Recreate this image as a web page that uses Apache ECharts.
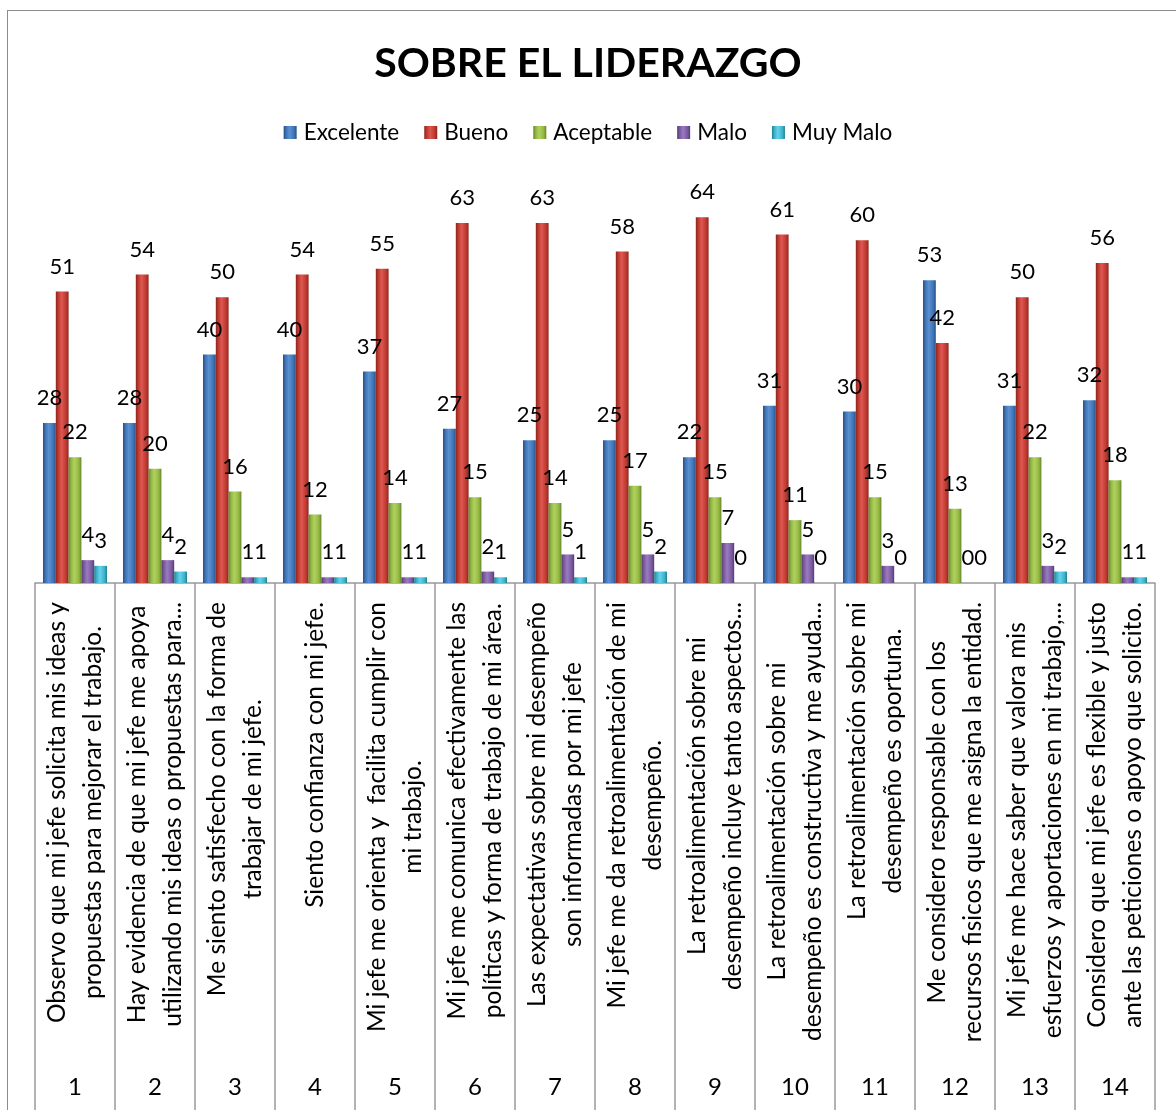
<!DOCTYPE html>
<html>
<head>
<meta charset="utf-8">
<script src="https://cdn.jsdelivr.net/npm/echarts@6/dist/echarts.min.js"></script>
<style>
  html, body { margin: 0; padding: 0; background: #fff; overflow: hidden; }
  #frame { position: absolute; left: 7px; top: 10px; width: 1300px; height: 1200px; border: 1.5px solid #8c8c8c; }
  #main { position: absolute; left: 0; top: 0; width: 1176px; height: 1110px; }
</style>
</head>
<body>
<div id="frame"></div>
<div id="main"></div>
<script>
// preguntas (texto tal como se ve en el gráfico)
const preguntas = [
  'Observo que mi jefe solicita mis ideas y\npropuestas para mejorar el trabajo.',
  'Hay evidencia de que mi jefe me apoya\nutilizando mis ideas o propuestas para...',
  'Me siento satisfecho con la forma de\ntrabajar de mi jefe.',
  'Siento confianza con mi jefe.',
  'Mi jefe me orienta y  facilita cumplir con\nmi trabajo.',
  'Mi jefe me comunica efectivamente las\npolíticas y forma de trabajo de mi área.',
  'Las expectativas sobre mi desempeño\nson informadas por mi jefe',
  'Mi jefe me da retroalimentación de mi\ndesempeño.',
  'La retroalimentación sobre mi\ndesempeño incluye tanto aspectos...',
  'La retroalimentación sobre mi\ndesempeño es constructiva y me ayuda...',
  'La retroalimentación sobre mi\ndesempeño es oportuna.',
  'Me considero responsable con los\nrecursos fisicos que me asigna la entidad.',
  'Mi jefe me hace saber que valora mis\nesfuerzos y aportaciones en mi trabajo,...',
  'Considero que mi jefe es flexible y justo\nante las peticiones o apoyo que solicito.'
]
const numeros = ['1', '2', '3', '4', '5', '6', '7', '8', '9', '10', '11', '12', '13', '14']

const excelente = [28, 28, 40, 40, 37, 27, 25, 25, 22, 31, 30, 53, 31, 32]
const bueno = [51, 54, 50, 54, 55, 63, 63, 58, 64, 61, 60, 42, 50, 56]
const aceptable = [22, 20, 16, 12, 14, 15, 14, 17, 15, 11, 15, 13, 22, 18]
const malo = [4, 4, 1, 1, 1, 2, 5, 5, 7, 5, 3, 0, 3, 1]
const muyMalo = [3, 2, 1, 1, 1, 1, 1, 2, 0, 0, 0, 0, 2, 1]

const FONT = 'Lato'

// colores estilo office con un poco de relieve
function barColor(dark, light, base) {
  return new echarts.graphic.LinearGradient(0, 0, 1, 0, [
    {offset: 0, color: dark},
    {offset: 0.2, color: base},
    {offset: 0.45, color: light},
    {offset: 0.8, color: base},
    {offset: 1, color: dark}
  ])
}

function serie(name, data, colors) {
  return {
    name: name,
    type: 'bar',
    data: data,
    barGap: '0%',
    barCategoryGap: '20%',
    itemStyle: {color: barColor(colors[0], colors[1], colors[2])},
    label: {
      show: true,
      position: 'top',
      distance: 14,
      color: '#000',
      fontFamily: FONT,
      fontSize: 22
    }
  }
}

let myChart = echarts.init(document.getElementById('main'))

let option = {
  backgroundColor: 'transparent',
  animation: false,
  color: ['#3f74b6', '#c0392f', '#93b842', '#7a5a9e', '#3cb3cc'],
  title: {
    text: 'SOBRE EL LIDERAZGO',
    left: 'center',
    top: 38,
    textStyle: {fontFamily: FONT, fontWeight: 'bold', fontSize: 41, color: '#000'}
  },
  legend: {
    top: 116,
    left: 'center',
    itemWidth: 13,
    itemHeight: 13,
    itemGap: 25,
    icon: 'rect',
    textStyle: {fontFamily: FONT, fontSize: 22.5, color: '#000', padding: [0, 0, 0, 2]}
  },
  grid: {left: 35, right: 21, top: 183, bottom: 527},
  xAxis: [
    {
      type: 'category',
      data: preguntas,
      axisLine: {show: true, lineStyle: {color: '#999', width: 1.5}},
      axisTick: {show: true, interval: 0, length: 530, lineStyle: {color: '#999', width: 1.5}},
      axisLabel: {
        interval: 0,
        rotate: 90,
        margin: 19,
        fontFamily: FONT,
        fontSize: 24.5,
        color: '#000',
        formatter: function (value) {
          return value.split('\n').map(function (l) {
            return '{c|' + l + '}'
          }).join('\n')
        },
        rich: {
          c: {align: 'center', fontFamily: FONT, fontSize: 24.5, lineHeight: 36, color: '#000'}
        }
      }
    },
    {
      type: 'category',
      data: numeros,
      position: 'bottom',
      offset: 484,
      axisLine: {show: false},
      axisTick: {show: false},
      axisLabel: {interval: 0, margin: 8, fontFamily: FONT, fontSize: 24, color: '#000'}
    }
  ],
  yAxis: {
    type: 'value',
    min: 0,
    max: 70,
    show: false,
    splitLine: {show: false}
  },
  series: [
    serie('Excelente', excelente, ['#284f80', '#5b90d2', '#3f74b6']),
    serie('Bueno', bueno, ['#8a2620', '#dc5850', '#c0392f']),
    serie('Aceptable', aceptable, ['#66842a', '#b0d160', '#93b842']),
    serie('Malo', malo, ['#553d72', '#9a7bc0', '#7a5a9e']),
    serie('Muy Malo', muyMalo, ['#23808f', '#68d2ea', '#3cb3cc'])
  ]
}

myChart.setOption(option)
</script>
</body>
</html>
